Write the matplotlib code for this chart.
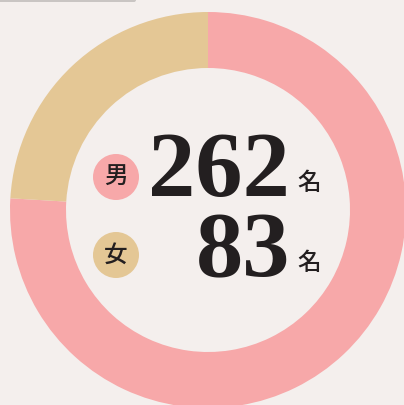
import matplotlib.pyplot as plt
from matplotlib.patches import Circle, FancyBboxPatch

# データ
labels = ["男", "女"]
counts = [262, 83]
colors = ["#f7a8a9", "#e4c795"]
unit = "名"

BG = "#f4efed"
INK = "#231f20"

fig = plt.figure(figsize=(4.04, 4.05), dpi=100, facecolor=BG)
ax = fig.add_axes([0, 0, 1, 1])
ax.set_facecolor(BG)

# ドーナツ（中心・半径はピクセル単位）
cx, cy = 208, 405 - 210
r_out, ring = 198, 56
ax.pie(counts, colors=colors, startangle=90, counterclock=False,
       center=(cx, cy), radius=r_out,
       wedgeprops=dict(width=ring, linewidth=0))

ax.set_xlim(0, 404)
ax.set_ylim(0, 405)
ax.set_aspect("equal")
ax.axis("off")

# 上部のグレーのバー
ax.add_patch(FancyBboxPatch((-10, 403), 146, 6, boxstyle="round,pad=0,rounding_size=2",
                            facecolor="#c9c5c3", edgecolor="none", clip_on=True))

# ラベル・数値
num_y = [405 - 196, 405 - 276]
badge_y = [405 - 177, 405 - 255]
unit_y = [405 - 183, 405 - 263]
for lab, n, col, ny, by, uy in zip(labels, counts, colors, num_y, badge_y, unit_y):
    ax.add_patch(Circle((116, by), 23, facecolor=col, edgecolor="none"))
    ax.text(116, by, lab, ha="center", va="center", fontsize=17, color=INK,
            fontweight="medium", family=["Noto Sans CJK JP", "DejaVu Sans"])
    ax.text(290, ny, str(n), ha="right", va="baseline", fontsize=68,
            fontweight="bold", color=INK, family="Liberation Serif")
    ax.text(309, uy, unit, ha="center", va="center", fontsize=17, color=INK,
            fontweight="medium", family=["Noto Sans CJK JP", "DejaVu Sans"])

fig.savefig("out.png", dpi=100, facecolor=BG)
